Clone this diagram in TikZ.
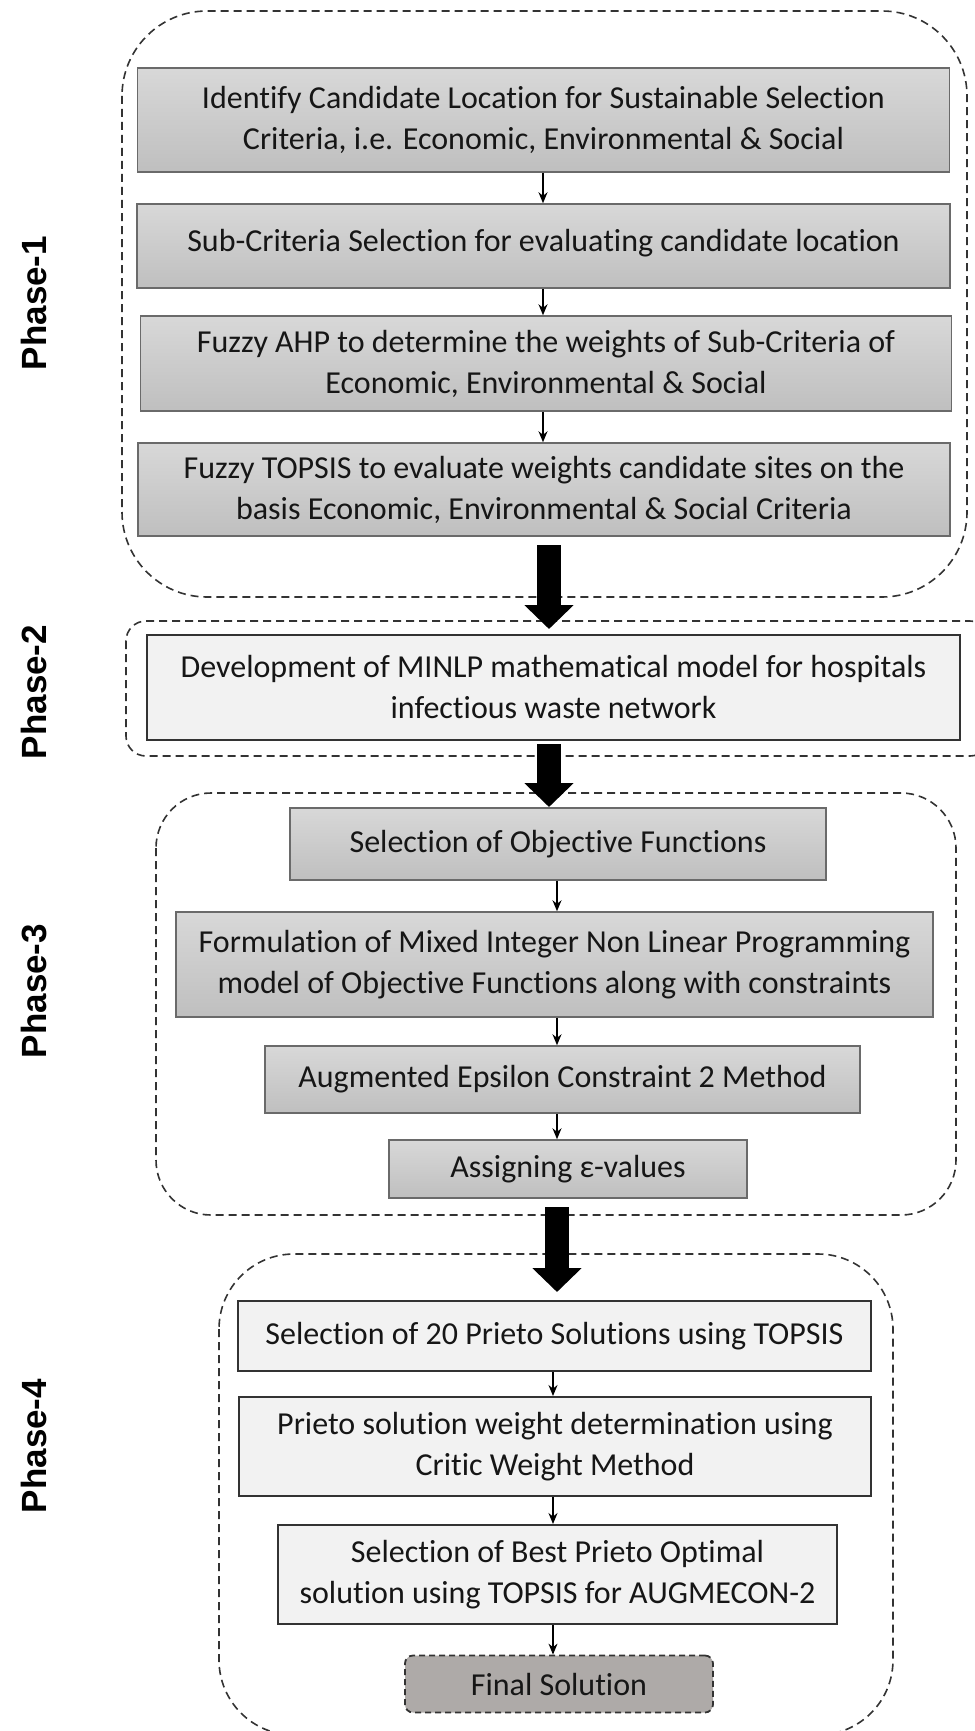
\documentclass[tikz,border=0pt]{standalone}
\usepackage{fontspec}
\setmainfont{Carlito}[Ligatures=CommonOff]
\newfontfamily\phasefont{Liberation Sans}
\usetikzlibrary{arrows.meta,calc}

\definecolor{boxtop}{HTML}{D8D8D8}
\definecolor{boxbot}{HTML}{BFBFBF}
\definecolor{boxedge}{HTML}{6A6A6A}
\definecolor{paleFill}{HTML}{F2F2F2}
\definecolor{darkedge}{HTML}{333333}
\definecolor{frame}{HTML}{333333}
\definecolor{finalFill}{HTML}{AEAAA8}
\definecolor{textcol}{HTML}{161616}

\tikzset{
  boxfont/.style={font=\fontsize{32}{41}\selectfont},
  shadedbox/.style={rectangle, draw=boxedge, line width=1.5pt,
    top color=boxtop, bottom color=boxbot, align=center, inner sep=0pt,
    text=textcol, boxfont},
  palebox/.style={rectangle, draw=darkedge, line width=2pt, fill=paleFill,
    align=center, inner sep=0pt, text=textcol, boxfont},
  finalbox/.style={rectangle, rounded corners=8pt, draw=darkedge, line width=1.8pt,
    dash pattern=on 6pt off 4pt, fill=finalFill, align=center, inner sep=0pt,
    text=textcol, boxfont},
  phaseframe/.style={draw=frame, line width=1.6pt, dash pattern=on 8pt off 5pt},
  phaselabel/.style={rotate=90, font=\phasefont\bfseries\fontsize{35}{35}\selectfont},
  flowarrow/.style={-{Stealth[length=11pt,width=9pt]}, line width=1.4pt, draw=black},
  bigarrow/.style={line width=24pt, -{Triangle[length=24pt,width=48pt]}, draw=black}
}

\begin{document}
\begin{tikzpicture}[x=1pt,y=-1pt]
\useasboundingbox (0,0) rectangle (974,1731);

% dashed phase frames
\draw[phaseframe, rounded corners=85pt] (122,11) rectangle (967,597);
\draw[phaseframe, rounded corners=20pt] (126,621) rectangle (990,756);
\draw[phaseframe, rounded corners=55pt] (156,793) rectangle (956,1215);
\draw[phaseframe, rounded corners=75pt] (219,1254) rectangle (893,1735);

% phase labels
\node[phaselabel] (lab1) at (34,303) {Phase-1};
\node[phaselabel] (lab2) at (34,692) {Phase-2};
\node[phaselabel] (lab3) at (34,991) {Phase-3};
\node[phaselabel] (lab4) at (34,1446) {Phase-4};

% Phase 1
\node[shadedbox, minimum width=812pt, minimum height=104pt] (p1a) at (543.5,120)
  {Identify Candidate Location for Sustainable Selection\\Criteria, i.e. Economic, Environmental \& Social};
\node[shadedbox, minimum width=813pt, minimum height=84pt] (p1b) at (543.5,246)
  {\raisebox{12pt}{Sub-Criteria Selection for evaluating candidate location}};
\node[shadedbox, minimum width=811pt, minimum height=95pt] (p1c) at (546,363.5)
  {Fuzzy AHP to determine the weights of Sub-Criteria of\\Economic, Environmental \& Social};
\node[shadedbox, minimum width=812pt, minimum height=93pt] (p1d) at (544,489.5)
  {Fuzzy TOPSIS to evaluate weights candidate sites on the\\basis Economic, Environmental \& Social Criteria};

% Phase 2
\node[palebox, minimum width=813pt, minimum height=105pt] (p2a) at (553.5,687.5)
  {Development of MINLP mathematical model for hospitals\\infectious waste network};

% Phase 3
\node[shadedbox, minimum width=536pt, minimum height=72pt] (p3a) at (558,844)
  {\raisebox{5pt}{Selection of Objective Functions}};
\node[shadedbox, minimum width=757pt, minimum height=105pt] (p3b) at (554.5,964.5)
  {Formulation of Mixed Integer Non Linear Programming\\model of Objective Functions along with constraints};
\node[shadedbox, minimum width=595pt, minimum height=67pt] (p3c) at (562.5,1079.5)
  {Augmented Epsilon Constraint 2 Method};
\node[shadedbox, minimum width=358pt, minimum height=58pt] (p3d) at (568,1169)
  {Assigning ε-values};

% Phase 4
\node[palebox, minimum width=633pt, minimum height=70pt] (p4a) at (554.5,1336)
  {Selection of 20 Prieto Solutions using TOPSIS};
\node[palebox, minimum width=632pt, minimum height=99pt] (p4b) at (555,1446.5)
  {Prieto solution weight determination using\\Critic Weight Method};
\node[palebox, minimum width=559pt, minimum height=99pt] (p4c) at (557.5,1574.5)
  {Selection of Best Prieto Optimal\\solution using TOPSIS for AUGMECON-2};
\node[finalbox, minimum width=308pt, minimum height=57pt] (p4d) at (559,1684)
  {Final Solution};

% columns for the step arrows
\coordinate (col1) at (543,0);
\coordinate (col3) at (557,0);
\coordinate (col4) at (553,0);

\draw[flowarrow] (p1a.south -| col1) -- (p1b.north -| col1);
\draw[flowarrow] (p1b.south -| col1) -- (p1c.north -| col1);
\draw[flowarrow] (p1c.south -| col1) -- (p1d.north -| col1);

\draw[flowarrow] (p3a.south -| col3) -- (p3b.north -| col3);
\draw[flowarrow] (p3b.south -| col3) -- (p3c.north -| col3);
\draw[flowarrow] (p3c.south -| col3) -- (p3d.north -| col3);

\draw[flowarrow] (p4a.south -| col4) -- (p4b.north -| col4);
\draw[flowarrow] (p4b.south -| col4) -- (p4c.north -| col4);
\draw[flowarrow] (p4c.south -| col4) -- (p4d.north -| col4);

% thick arrows between phases
\coordinate (big1s) at (549,545);
\coordinate (big1e) at (549,629);
\coordinate (big2s) at (549,744);
\coordinate (big2e) at (549,807);
\coordinate (big3s) at (557,1207);
\coordinate (big3e) at (557,1292);
\draw[bigarrow] (big1s) -- (big1e);
\draw[bigarrow] (big2s) -- (big2e);
\draw[bigarrow] (big3s) -- (big3e);
\end{tikzpicture}
\end{document}
